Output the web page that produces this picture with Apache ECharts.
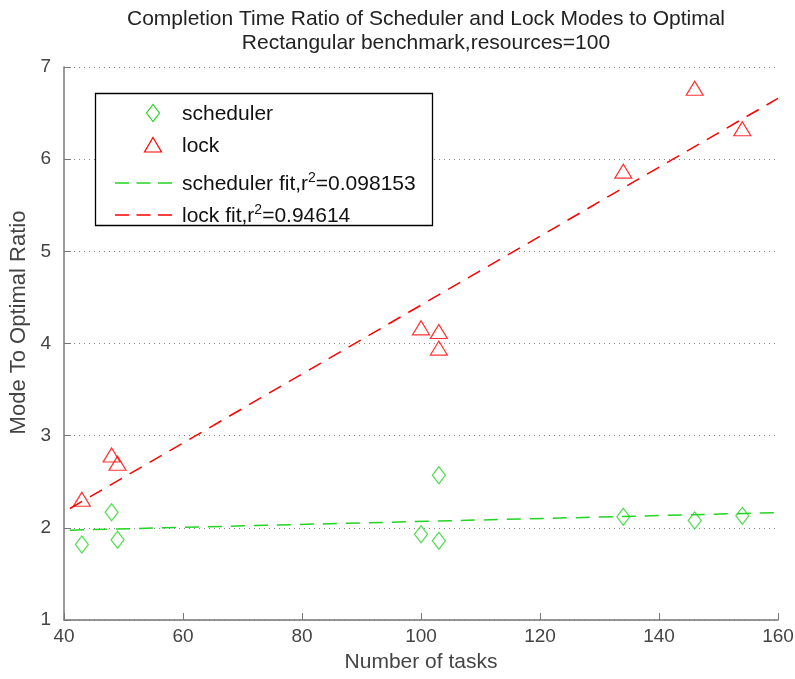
<!DOCTYPE html>
<html><head><meta charset="utf-8">
<script src="https://cdn.jsdelivr.net/npm/echarts@6/dist/echarts.min.js"></script>
<style>html,body{margin:0;padding:0;background:#fff}#c{width:795px;height:679px}</style>
</head><body><div id="c"></div>
<script>
// Data
const taskCounts = [43, 48, 49, 100, 103, 103, 134, 146, 154];
const schedulerRatio = [1.82, 2.17, 1.87, 1.93, 1.86, 2.57, 2.12, 2.08, 2.13];
const lockRatio = [2.31, 2.79, 2.70, 4.17, 4.13, 3.95, 5.87, 6.77, 6.33];
const fitX = [41, 160];
const schedulerFitY = [1.975, 2.165];
const lockFitY = [2.21, 6.66];
const titleLines = ['Completion Time Ratio of Scheduler and Lock Modes to Optimal', 'Rectangular benchmark,resources=100'];
const seriesNames = ['scheduler', 'lock', 'scheduler fit', 'lock fit'];
const legendLabels = ['scheduler', 'lock', 'scheduler fit,r{sup|2}=0.098153', 'lock fit,r{sup|2}=0.94614'];

const GREEN = '#22d422', RED = '#ff0000';
const FONT = 'Liberation Sans, Arial, sans-serif';
const TICKFONT = 'Liberation Sans Narrow, Arial Narrow, Liberation Sans, sans-serif';
const pairs = (xs, ys) => xs.map((x, i) => [x, ys[i]]);

// legend (drawn as graphic)
const LX = 95.5, LY = 93.5, LW = 337, LH = 132;
const rowY = [113, 145, 183, 215];
const textStyleBase = {fill: '#111', fontSize: 21, fontFamily: FONT, verticalAlign: 'middle', align: 'left',
  rich: {sup: {fontSize: 14, fontFamily: FONT, padding: [0, 0, 11, 0], fill: '#111'}}};
const legendGraphic = [
  {type: 'rect', shape: {x: LX, y: LY, width: LW, height: LH}, style: {fill: '#fff', stroke: '#000', lineWidth: 1.3}, z: 10},
  {type: 'polygon', shape: {points: [[153, rowY[0] - 8.5], [159.5, rowY[0]], [153, rowY[0] + 8.5], [146.5, rowY[0]]]},
   style: {fill: 'none', stroke: GREEN, lineWidth: 1.2}, z: 11},
  {type: 'polygon', shape: {points: [[153, rowY[1] - 7.5], [161.5, rowY[1] + 7], [144.5, rowY[1] + 7]]},
   style: {fill: 'none', stroke: RED, lineWidth: 1.2}, z: 11},
  {type: 'line', shape: {x1: 115, y1: rowY[2], x2: 172, y2: rowY[2]}, style: {stroke: GREEN, lineWidth: 1.5, lineDash: [14, 7.5]}, z: 11},
  {type: 'line', shape: {x1: 115, y1: rowY[3], x2: 172, y2: rowY[3]}, style: {stroke: RED, lineWidth: 1.5, lineDash: [14, 7.5]}, z: 11}
].concat(legendLabels.map((t, i) => ({
  type: 'text', x: 182, y: rowY[i] + 1, z: 11, style: Object.assign({text: t}, textStyleBase)
})));

const chart = echarts.init(document.getElementById('c'));
chart.setOption({
  animation: false,
  textStyle: {fontFamily: FONT},
  title: {
    text: titleLines.join('\n'), left: 421, top: 2, textAlign: 'center',
    textStyle: {fontSize: 21, fontWeight: 'normal', color: '#222', lineHeight: 24, fontFamily: FONT}
  },
  grid: {left: 64, right: 17, top: 67, bottom: 59, containLabel: false, outerBoundsMode: 'none'},
  xAxis: {
    type: 'value', min: 40, max: 160, interval: 20,
    name: 'Number of tasks', nameLocation: 'middle', nameGap: 32,
    nameTextStyle: {fontSize: 21, color: '#444', fontFamily: FONT},
    axisLine: {show: true, lineStyle: {color: '#777', width: 1.5}},
    axisTick: {show: true, inside: true, length: 7, lineStyle: {color: '#777'}},
    axisLabel: {fontSize: 19, color: '#444', margin: 7, fontFamily: TICKFONT},
    splitLine: {show: false}
  },
  yAxis: {
    type: 'value', min: 1, max: 7, interval: 1,
    name: 'Mode To Optimal Ratio', nameLocation: 'middle', nameGap: 33,
    nameTextStyle: {fontSize: 22, color: '#444', fontFamily: FONT, padding: [0, 0, 0, 42]},
    axisLine: {show: true, lineStyle: {color: '#777', width: 1.5}},
    axisTick: {show: true, inside: true, length: 7, lineStyle: {color: '#777'}},
    axisLabel: {fontSize: 19, color: '#444', margin: 13, fontFamily: TICKFONT},
    splitLine: {show: true, lineStyle: {color: '#888', type: [1, 4], width: 1.2}}
  },
  graphic: legendGraphic,
  series: [
    {name: seriesNames[0], type: 'scatter', symbol: 'diamond', symbolSize: [13, 17],
     itemStyle: {color: 'rgba(0,0,0,0)', borderColor: GREEN, borderWidth: 1.2},
     data: pairs(taskCounts, schedulerRatio), z: 5},
    {name: seriesNames[1], type: 'scatter', symbol: 'triangle', symbolSize: [17, 14],
     itemStyle: {color: 'rgba(0,0,0,0)', borderColor: RED, borderWidth: 1.2},
     data: pairs(taskCounts, lockRatio), z: 5},
    {name: seriesNames[2], type: 'line', symbol: 'none', showSymbol: false,
     lineStyle: {color: GREEN, width: 1.5, type: [14, 9]}, itemStyle: {color: GREEN},
     data: pairs(fitX, schedulerFitY)},
    {name: seriesNames[3], type: 'line', symbol: 'none', showSymbol: false,
     lineStyle: {color: RED, width: 1.5, type: [14, 9]}, itemStyle: {color: RED},
     data: pairs(fitX, lockFitY)}
  ]
});
</script></body></html>
